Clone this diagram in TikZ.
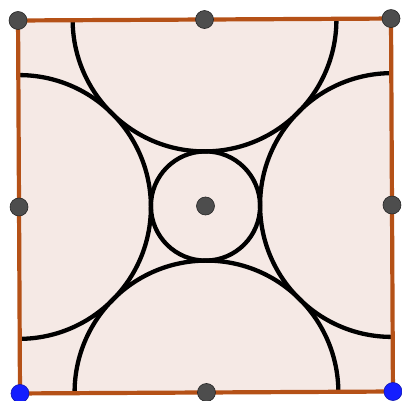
\documentclass[tikz,border=0pt]{standalone}
\usepackage{tikz}
\definecolor{sqfill}{RGB}{245,233,229}
\definecolor{sqedge}{RGB}{181,81,23}
\definecolor{ptgray}{RGB}{77,77,77}
\definecolor{ptblue}{RGB}{20,30,255}

\begin{document}
\begin{tikzpicture}[x=1pt, y=1pt,
    edge/.style={draw=sqedge, line width=4.2pt, line join=round},
    arcline/.style={draw=black, line width=4.3pt},
    pt/.style={circle, draw=black!85, line width=0.6pt, fill=ptgray, minimum size=18pt, inner sep=0pt},
    bpt/.style={pt, fill=ptblue, draw=ptblue!70!black}
]
\useasboundingbox (0,0) rectangle (402,-401);

\begin{scope}[shift={(205.5,-206)}, rotate=0.3]
% square corners and midpoints
\coordinate (A) at (-186.5,186.5);
\coordinate (B) at (186.5,186.5);
\coordinate (C) at (186.5,-186.5);
\coordinate (D) at (-186.5,-186.5);

\fill[sqfill] (A) -- (B) -- (C) -- (D) -- cycle;

% semicircles on the sides
\draw[arcline] (-131.9,186.5) arc[start angle=180, end angle=360, radius=131.9];
\draw[arcline] (131.9,-186.5) arc[start angle=0, end angle=180, radius=131.9];
\draw[arcline] (-186.5,131.9) arc[start angle=90, end angle=-90, radius=131.9];
\draw[arcline] (186.5,131.9) arc[start angle=90, end angle=270, radius=131.9];
% inner circle
\draw[arcline] (0,0) circle[radius=54.6];

\draw[edge] (A) -- (B) -- (C) -- (D) -- cycle;

% points
\node[pt] (ptA) at (A) {};
\node[pt] (ptB) at (B) {};
\node[bpt] (ptC) at (C) {};
\node[bpt] (ptD) at (D) {};
\node[pt] (mTop) at (0,186.5) {};
\node[pt] (mRight) at (186.5,0) {};
\node[pt] (mBottom) at (0,-186.5) {};
\node[pt] (mLeft) at (-186.5,0) {};
\node[pt] (O) at (0,0) {};
\end{scope}
\end{tikzpicture}
\end{document}
